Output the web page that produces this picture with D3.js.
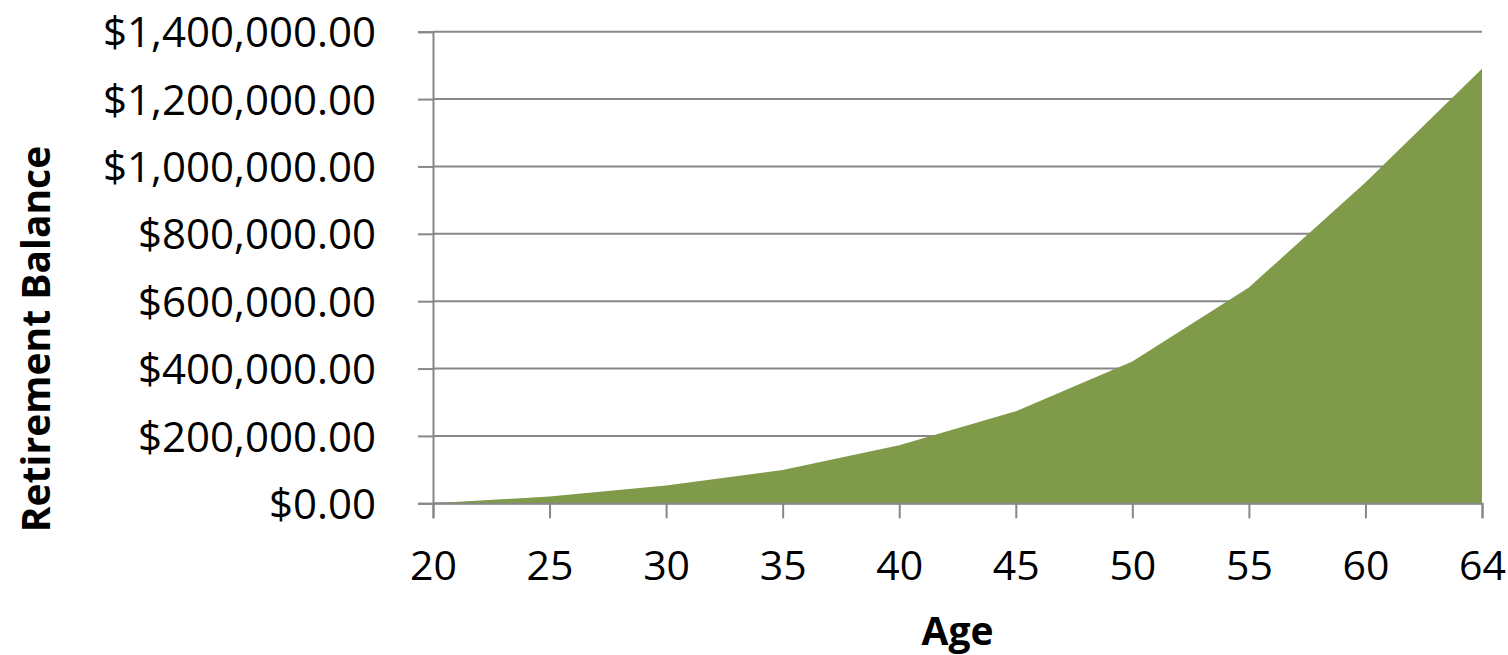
<!DOCTYPE html>
<html>
<head>
<meta charset="utf-8">
<script src="https://cdn.jsdelivr.net/npm/d3@7"></script>
<style>
  html, body { margin: 0; padding: 0; background: #fff; }
  svg { display: block; }
</style>
</head>
<body>
<svg id="chart"></svg>
<script>
// Data
const ages = ["20", "25", "30", "35", "40", "45", "50", "55", "60", "64"];
const balances = [0, 20000, 53000, 99000, 172000, 273000, 421000, 641000, 952000, 1290000];
const yTicks = [0, 200000, 400000, 600000, 800000, 1000000, 1200000, 1400000];

const width = 1508, height = 655;
const margin = { top: 31.7, right: 26, bottom: 151.7, left: 433 };

const svg = d3.select("#chart")
  .attr("width", width)
  .attr("height", height);

const gray = "#878787";
const font = "'Open Sans', 'DejaVu Sans', sans-serif";

// Scales
const x = d3.scalePoint()
  .domain(ages)
  .range([margin.left, width - margin.right]);

const y = d3.scaleLinear()
  .domain([0, 1400000])
  .range([height - margin.bottom, margin.top]);

// Gridlines
svg.append("g")
  .selectAll("line")
  .data(yTicks)
  .enter()
  .append("line")
  .attr("x1", margin.left)
  .attr("x2", width - margin.right)
  .attr("y1", d => y(d))
  .attr("y2", d => y(d))
  .attr("stroke", gray)
  .attr("stroke-width", 2);

// Area
const data = ages.map((a, i) => ({ age: a, value: balances[i] }));
const area = d3.area()
  .x(d => x(d.age))
  .y0(y(0))
  .y1(d => y(d.value));

svg.append("path")
  .datum(data)
  .attr("d", area)
  .attr("fill", "#7f9a48");

// Y axis
const yAxis = svg.append("g")
  .attr("transform", `translate(${margin.left},0)`)
  .call(d3.axisLeft(y).tickValues(yTicks).tickFormat(d3.format("$,.2f")).tickSize(15).tickPadding(42));

yAxis.select(".domain").attr("stroke", gray).attr("stroke-width", 2);
yAxis.selectAll(".tick line").attr("stroke", gray).attr("stroke-width", 2);
yAxis.selectAll(".tick text")
  .attr("fill", "#000")
  .style("font-family", font)
  .style("font-size", "42px")
  .attr("dy", "0.36em");

// X axis
const xAxis = svg.append("g")
  .attr("transform", `translate(0,${y(0)})`)
  .call(d3.axisBottom(x).tickSize(15).tickPadding(30));

xAxis.select(".domain").attr("stroke", gray).attr("stroke-width", 2);
xAxis.selectAll(".tick line").attr("stroke", gray).attr("stroke-width", 2);
xAxis.selectAll(".tick text")
  .attr("fill", "#000")
  .style("font-family", font)
  .style("font-size", "41px")
  .attr("y", 77)
  .attr("dy", 0);

// Axis titles
svg.append("text")
  .attr("x", (margin.left + width - margin.right) / 2)
  .attr("y", 645)
  .attr("text-anchor", "middle")
  .style("font-family", font)
  .style("font-weight", "bold")
  .style("font-size", "39px")
  .text("Age");

svg.append("text")
  .attr("transform", "translate(50,339) rotate(-90)")
  .attr("text-anchor", "middle")
  .style("font-family", font)
  .style("font-weight", "bold")
  .style("font-size", "39px")
  .text("Retirement Balance");
</script>
</body>
</html>
